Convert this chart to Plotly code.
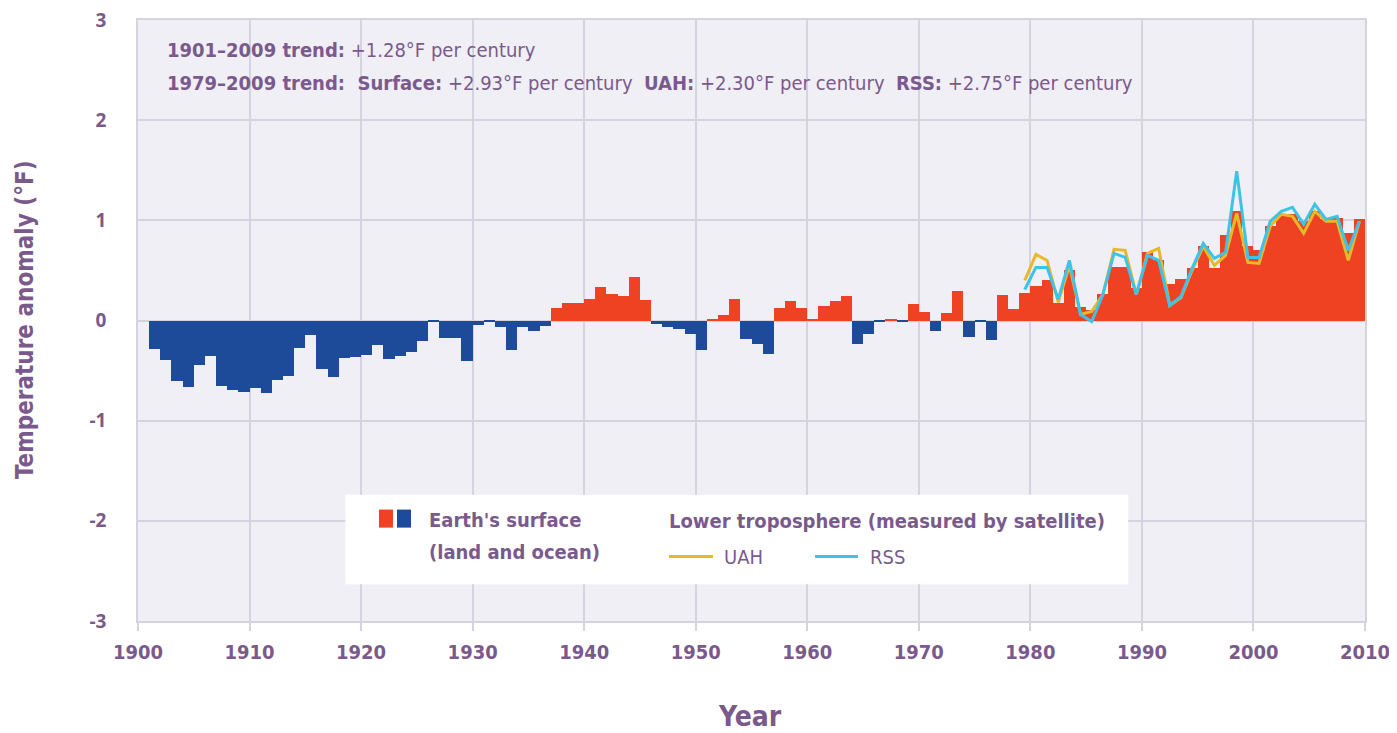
import plotly.graph_objects as go

# ---------------- data ----------------
years = list(range(1901, 2010))
surface = [
    -0.28, -0.39, -0.60, -0.66, -0.44, -0.35, -0.65, -0.69, -0.71, -0.67,   # 1901-1910
    -0.72, -0.59, -0.55, -0.27, -0.14, -0.48, -0.56, -0.37, -0.36, -0.34,   # 1911-1920
    -0.24, -0.38, -0.35, -0.31, -0.20, -0.01, -0.17, -0.17, -0.40, -0.04,   # 1921-1930
    -0.01, -0.06, -0.29, -0.06, -0.10, -0.05, 0.12, 0.17, 0.17, 0.21,       # 1931-1940
    0.33, 0.26, 0.24, 0.43, 0.20, -0.03, -0.06, -0.08, -0.13, -0.29,        # 1941-1950
    0.01, 0.05, 0.21, -0.18, -0.23, -0.33, 0.12, 0.19, 0.12, 0.01,          # 1951-1960
    0.14, 0.19, 0.24, -0.23, -0.13, -0.01, 0.01, -0.01, 0.16, 0.08,         # 1961-1970
    -0.10, 0.07, 0.29, -0.16, -0.01, -0.19, 0.25, 0.11, 0.27, 0.34,         # 1971-1980
    0.40, 0.17, 0.50, 0.13, 0.10, 0.26, 0.53, 0.53, 0.32, 0.68,             # 1981-1990
    0.60, 0.36, 0.41, 0.52, 0.74, 0.52, 0.85, 1.09, 0.74, 0.70,             # 1991-2000
    0.94, 1.04, 1.06, 0.99, 1.09, 1.01, 1.02, 0.87, 1.01,                   # 2001-2009
]

sat_years = list(range(1979, 2010))
uah = [0.40, 0.66, 0.60, 0.18, 0.55, 0.06, 0.09, 0.26, 0.71, 0.70,
       0.26, 0.67, 0.72, 0.15, 0.23, 0.50, 0.74, 0.55, 0.65, 1.07,
       0.58, 0.57, 0.94, 1.06, 1.04, 0.87, 1.09, 0.99, 0.99, 0.60, 0.99]
rss = [0.31, 0.53, 0.53, 0.21, 0.60, 0.06, -0.01, 0.26, 0.67, 0.63,
       0.26, 0.65, 0.60, 0.15, 0.24, 0.52, 0.77, 0.62, 0.68, 1.49,
       0.63, 0.63, 0.99, 1.09, 1.13, 0.96, 1.16, 1.01, 1.04, 0.70, 0.99]

x_ticks = list(range(1900, 2011, 10))
y_ticks = [-3, -2, -1, 0, 1, 2, 3]
y_tick_labels = ["-3", "-2", "-1", "0", "1", "2", "3"]

# ---------------- styles ----------------
RED = "#EE4223"
BLUE = "#1E4A9A"
UAH_C = "#E8B829"
RSS_C = "#3EC3E8"
TXT = "#7A5A8C"
GRID = "#D5D3DF"
PLOTBG = "#F0EFF6"
COND = "DejaVu Sans Condensed, Liberation Sans Narrow, Arial Narrow, sans-serif"

bar_colors = [RED if v >= 0 else BLUE for v in surface]

fig = go.Figure()
fig.add_trace(go.Bar(
    x=years, y=surface, width=1, offset=0,
    marker=dict(color=bar_colors, line=dict(width=0)),
    name="Earth's surface", showlegend=False,
))
fig.add_trace(go.Scatter(
    x=[y + 0.5 for y in sat_years], y=uah, mode="lines",
    line=dict(color=UAH_C, width=3), name="UAH", showlegend=False,
))
fig.add_trace(go.Scatter(
    x=[y + 0.5 for y in sat_years], y=rss, mode="lines",
    line=dict(color=RSS_C, width=3), name="RSS", showlegend=False,
))

# ---------------- custom legend box ----------------
shapes = [
    dict(type="rect", xref="paper", yref="paper", x0=0.169, x1=0.807, y0=0.061, y1=0.210,
         fillcolor="white", line=dict(width=0), layer="above"),
    dict(type="rect", xref="paper", yref="paper", x0=0.1964, x1=0.2078, y0=0.1554, y1=0.1854,
         fillcolor=RED, line=dict(width=0), layer="above"),
    dict(type="rect", xref="paper", yref="paper", x0=0.2111, x1=0.2225, y0=0.1554, y1=0.1854,
         fillcolor=BLUE, line=dict(width=0), layer="above"),
    dict(type="line", xref="paper", yref="paper", x0=0.4327, x1=0.4686, y0=0.1072, y1=0.1072,
         line=dict(color=UAH_C, width=3), layer="above"),
    dict(type="line", xref="paper", yref="paper", x0=0.5518, x1=0.5868, y0=0.1072, y1=0.1072,
         line=dict(color=RSS_C, width=3), layer="above"),
]

def ann(text, x, y, size=20, xanchor="left", **kw):
    return dict(text=text, x=x, y=y, xref="paper", yref="paper", xanchor=xanchor,
                yanchor="middle", showarrow=False,
                font=dict(family=COND, size=size, color=TXT), **kw)

annotations = [
    ann("<b>1901–2009 trend:</b> +1.28°F per century", 0.022, 0.950),
    ann("<b>1979–2009 trend:  Surface:</b> +2.93°F per century  <b>UAH:</b> +2.30°F per century  "
        "<b>RSS:</b> +2.75°F per century", 0.022, 0.895),
    ann("<b>Earth's surface</b>", 0.2355, 0.1687),
    ann("<b>(land and ocean)</b>", 0.2355, 0.1156),
    ann("<b>Lower troposphere (measured by satellite)</b>", 0.4311, 0.1671),
    ann("UAH", 0.476, 0.1072),
    ann("RSS", 0.595, 0.1072),
    ann("<b>Year</b>", 0.4988, -0.159, size=28, xanchor="center"),
    ann("<b>Temperature anomaly (°F)</b>", -0.092, 0.501, size=24, xanchor="center", textangle=-90),
]

# page body has an 8px margin, so the figure is offset by 8px inside the 1397x733 window
fig.update_layout(
    width=1389, height=725,
    margin=dict(l=130, r=32, t=12, b=111.5, autoexpand=False),
    paper_bgcolor="white", plot_bgcolor=PLOTBG,
    bargap=0, showlegend=False,
    shapes=shapes, annotations=annotations,
    xaxis=dict(range=[1900, 2010], tickvals=x_ticks, ticktext=[str(t) for t in x_ticks],
               showgrid=True, gridcolor=GRID, gridwidth=1.5, zeroline=False,
               showline=True, linecolor=GRID, linewidth=1.5, mirror=True,
               ticks="outside", ticklen=8, tickcolor=GRID, tickwidth=1.5,
               tickfont=dict(family=COND, size=20, color=TXT, weight="bold"),
               ticklabelstandoff=4, ticklabeloverflow="allow",
               automargin=False, fixedrange=True),
    yaxis=dict(range=[-3, 3], tickvals=y_ticks, ticktext=y_tick_labels,
               showgrid=True, gridcolor=GRID, gridwidth=1.5,
               zeroline=False, showline=True, linecolor=GRID, linewidth=1.5, mirror=True,
               ticks="", tickfont=dict(family="Open Sans, DejaVu Sans, sans-serif", size=19,
                                       color=TXT, weight="bold"),
               ticklabelstandoff=26, ticklabeloverflow="allow",
               automargin=False, fixedrange=True),
)

fig.write_html("out.html")
